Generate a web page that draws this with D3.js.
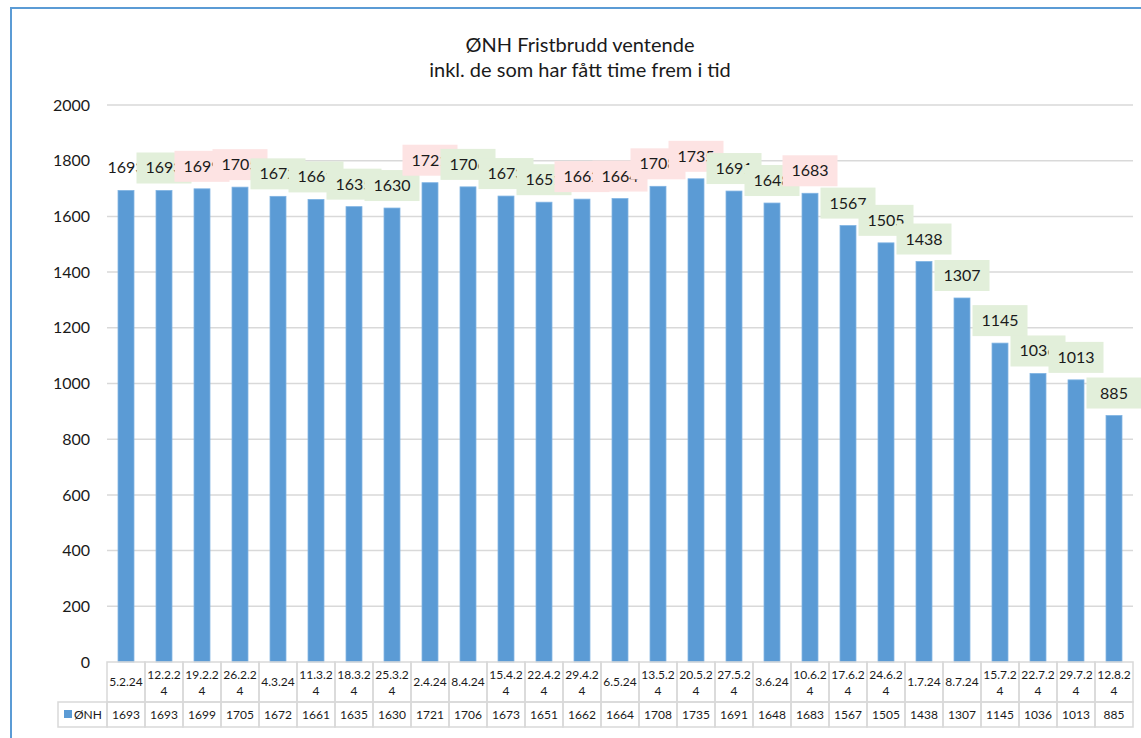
<!DOCTYPE html>
<html lang="no">
<head>
    <meta charset="UTF-8">
    <title>ØNH Fristbrudd ventende</title>
    <style>
        body {
            margin: 0;
            background-color: #ffffff;
            font-family: Lato, "Open Sans", sans-serif;
        }
        svg {
            display: block;
        }
        .grid line {
            stroke: #d9d9d9;
            stroke-width: 1.5px;
        }
        .cell {
            stroke: #d9d9d9;
            stroke-width: 1.5px;
            fill: none;
        }
    </style>
</head>
<body>
<script src="https://d3js.org/d3.v7.min.js"></script>
<script>
    var categories = ["5.2.24", "12.2.24", "19.2.24", "26.2.24", "4.3.24", "11.3.24", "18.3.24", "25.3.24",
        "2.4.24", "8.4.24", "15.4.24", "22.4.24", "29.4.24", "6.5.24", "13.5.24", "20.5.24", "27.5.24",
        "3.6.24", "10.6.24", "17.6.24", "24.6.24", "1.7.24", "8.7.24", "15.7.24", "22.7.24", "29.7.24", "12.8.24"];
    var values = [1693, 1693, 1699, 1705, 1672, 1661, 1635, 1630, 1721, 1706, 1673, 1651, 1662, 1664,
        1708, 1735, 1691, 1648, 1683, 1567, 1505, 1438, 1307, 1145, 1036, 1013, 885];
    var yTicks = [0, 200, 400, 600, 800, 1000, 1200, 1400, 1600, 1800, 2000];
    var seriesName = "ØNH";
    var titleLines = ["ØNH Fristbrudd ventende", "inkl. de som har fått time frem i tid"];

    var width = 1141, height = 738;
    var plot = {left: 107, right: 1133, top: 105, bottom: 662};
    var barColor = "#5b9bd5";

    var svg = d3.select("body").append("svg")
        .attr("width", width)
        .attr("height", height);

    // chart frame (only top and left edges show in the window)
    svg.append("rect")
        .attr("x", 11)
        .attr("y", 8)
        .attr("width", 1200)
        .attr("height", 800)
        .attr("fill", "none")
        .attr("stroke", barColor)
        .attr("stroke-width", 2);

    svg.selectAll(".title")
        .data(titleLines)
        .enter().append("text")
        .attr("class", "title")
        .attr("x", 580)
        .attr("y", function(d, i) { return 52 + i * 25; })
        .attr("text-anchor", "middle")
        .attr("font-size", 20)
        .attr("fill", "#1a1a1a")
        .text(function(d) { return d; });

    var x = d3.scaleBand()
        .domain(d3.range(categories.length))
        .range([plot.left, plot.right])
        .paddingInner(0.58)
        .paddingOuter(0.29);

    var col = (plot.right - plot.left) / categories.length;

    var y = d3.scaleLinear()
        .domain([0, 2000])
        .range([plot.bottom, plot.top]);

    // gridlines
    svg.append("g")
        .attr("class", "grid")
        .selectAll("line")
        .data(yTicks.slice(1))
        .enter().append("line")
        .attr("x1", plot.left)
        .attr("x2", plot.right)
        .attr("y1", function(d) { return y(d); })
        .attr("y2", function(d) { return y(d); });

    var yAxis = svg.append("g")
        .attr("transform", "translate(" + (plot.left - 17) + ",0)")
        .call(d3.axisLeft(y).tickValues(yTicks).tickFormat(d3.format("d")).tickSize(0).tickPadding(0));
    yAxis.select(".domain").remove();
    yAxis.selectAll("text")
        .attr("font-family", "Lato, sans-serif")
        .attr("font-size", 16)
        .attr("fill", "#1a1a1a");

    svg.selectAll(".bar")
        .data(values)
        .enter().append("rect")
        .attr("class", "bar")
        .attr("x", function(d, i) { return x(i); })
        .attr("y", function(d) { return y(d); })
        .attr("width", x.bandwidth())
        .attr("height", function(d) { return y(0) - y(d); })
        .attr("fill", barColor)
        .attr("stroke", "#7fb3e3")
        .attr("stroke-width", 0.8);

    // data labels: red box when the week went up, green when it went down or held
    var labels = svg.selectAll(".label")
        .data(values)
        .enter().append("g")
        .attr("class", "label")
        .attr("transform", function(d, i) {
            return "translate(" + (x(i) + x.bandwidth() / 2) + "," + (y(d) - 7) + ")";
        });

    labels.append("rect")
        .attr("x", -27.5)
        .attr("y", -31)
        .attr("width", 55)
        .attr("height", 31)
        .attr("fill", function(d, i) {
            if (i === 0) return "#ffffff";
            return d > values[i - 1] ? "#fde3e3" : "#e2efda";
        });

    labels.append("text")
        .attr("y", -10)
        .attr("text-anchor", "middle")
        .attr("font-size", 16)
        .attr("fill", "#1a1a1a")
        .text(function(d) { return d; });

    // data table under the plot
    var rowCat = {top: plot.bottom, bottom: 702};
    var rowVal = {top: 702, bottom: 727};
    var table = svg.append("g");

    table.selectAll(".catcell")
        .data(categories)
        .enter().append("rect")
        .attr("class", "cell")
        .attr("x", function(d, i) { return plot.left + i * col; })
        .attr("y", rowCat.top)
        .attr("width", col)
        .attr("height", rowCat.bottom - rowCat.top);

    table.selectAll(".valcell")
        .data(values)
        .enter().append("rect")
        .attr("class", "cell")
        .attr("x", function(d, i) { return plot.left + i * col; })
        .attr("y", rowVal.top)
        .attr("width", col)
        .attr("height", rowVal.bottom - rowVal.top);

    table.append("rect")
        .attr("class", "cell")
        .attr("x", 58)
        .attr("y", rowVal.top)
        .attr("width", plot.left - 58)
        .attr("height", rowVal.bottom - rowVal.top);

    // category text wraps after 6 characters like in the sheet
    var catText = table.selectAll(".cat")
        .data(categories)
        .enter().append("text")
        .attr("class", "cat")
        .attr("text-anchor", "middle")
        .attr("font-size", 12)
        .attr("fill", "#1a1a1a");
    catText.each(function(d, i) {
        var cx = plot.left + (i + 0.5) * col;
        var t = d3.select(this);
        if (d.length <= 6) {
            t.append("tspan").attr("x", cx).attr("y", 686).text(d);
        } else {
            t.append("tspan").attr("x", cx).attr("y", 679).text(d.slice(0, 6));
            t.append("tspan").attr("x", cx).attr("y", 695).text(d.slice(6));
        }
    });

    table.selectAll(".val")
        .data(values)
        .enter().append("text")
        .attr("class", "val")
        .attr("x", function(d, i) { return plot.left + (i + 0.5) * col; })
        .attr("y", 719)
        .attr("text-anchor", "middle")
        .attr("font-size", 12)
        .attr("fill", "#1a1a1a")
        .text(function(d) { return d; });

    table.append("rect")
        .attr("x", 64)
        .attr("y", 710)
        .attr("width", 8)
        .attr("height", 8)
        .attr("fill", barColor);

    table.append("text")
        .attr("x", 74)
        .attr("y", 719)
        .attr("font-size", 12)
        .attr("fill", "#1a1a1a")
        .text(seriesName);
</script>
</body>
</html>
